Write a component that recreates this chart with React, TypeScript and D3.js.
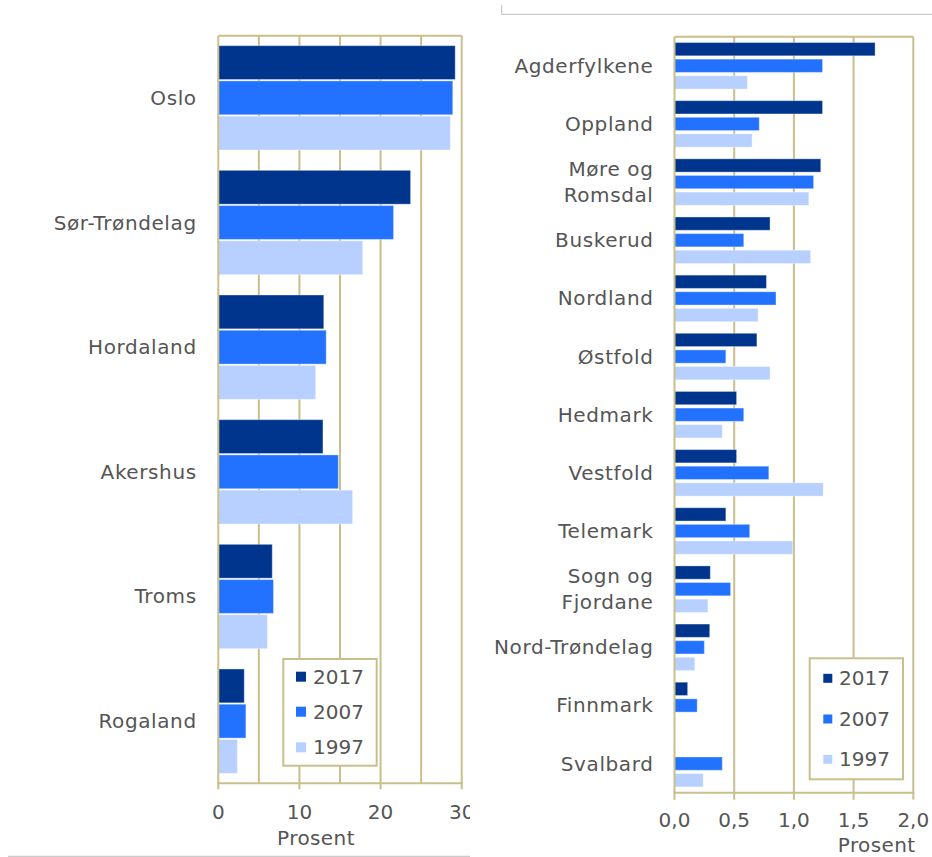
import React from "react";
import * as d3 from "d3";

// ---------- data ----------
const years = ["2017", "2007", "1997"];

const leftCategories = ["Oslo", "Sør-Trøndelag", "Hordaland", "Akershus", "Troms", "Rogaland"];
const left2017 = [29.2, 23.7, 13.0, 12.9, 6.65, 3.2];
const left2007 = [28.9, 21.6, 13.3, 14.8, 6.8, 3.4];
const left1997 = [28.6, 17.8, 12.0, 16.55, 6.05, 2.35];
const leftTicks = [0, 10, 20, 30];
const leftGrid = [5, 10, 15, 20, 25];

const rightCategories = [
  "Agderfylkene", "Oppland", "Møre og\nRomsdal", "Buskerud", "Nordland", "Østfold",
  "Hedmark", "Vestfold", "Telemark", "Sogn og\nFjordane", "Nord-Trøndelag", "Finnmark", "Svalbard",
];
const right2017: (number | null)[] = [1.68, 1.24, 1.225, 0.8, 0.77, 0.69, 0.52, 0.52, 0.43, 0.3, 0.295, 0.11, null];
const right2007: (number | null)[] = [1.24, 0.71, 1.165, 0.58, 0.85, 0.43, 0.58, 0.79, 0.63, 0.47, 0.25, 0.19, 0.4];
const right1997: (number | null)[] = [0.61, 0.65, 1.125, 1.14, 0.7, 0.8, 0.4, 1.245, 0.99, 0.28, 0.17, null, 0.24];
const rightTicks = [0, 0.5, 1.0, 1.5, 2.0];
const rightGrid = [0.5, 1.0, 1.5];

const colors: Record<string, string> = { "2017": "#00358e", "2007": "#2372ff", "1997": "#b7d0ff" };
const KHAKI = "#c9bf8d";
const TEXT = "#555555";
const FONT = "'DejaVu Sans', Verdana, sans-serif";

type PanelProps = {
  categories: string[];
  series: (number | null)[][];
  xDomain: [number, number];
  xRange: [number, number];
  yRange: [number, number];
  padInner: number;
  padOuter: number;
  subPad: number;
  grid: number[];
  ticks: number[];
  tickFmt: (v: number) => string;
  tickBaseline: number;
  tickLen: number;
  labelX: number;
  lineHeight: number;
  prosentX: number;
  prosentY: number;
  legend: { x: number; y: number; w: number; h: number; mx: number; ms: number; tx: number; ys: number[] };
  clipId: string;
  clipW: number;
};

function Panel(p: PanelProps) {
  const x = d3.scaleLinear().domain(p.xDomain).range(p.xRange);
  const y = d3.scaleBand<string>().domain(p.categories).range(p.yRange).paddingInner(p.padInner).paddingOuter(p.padOuter);
  const sub = d3.scaleBand<string>().domain(years).range([0, y.bandwidth()]).paddingInner(p.subPad);
  const [x0, x1] = p.xRange;
  const [yTop, yBot] = p.yRange;
  return (
    <g clipPath={`url(#${p.clipId})`}>
      <defs>
        <clipPath id={p.clipId}>
          <rect x={x0 - 400} y={0} width={p.clipW} height={857} />
        </clipPath>
      </defs>
      {/* grid */}
      {p.grid.map((g) => (
        <line key={"g" + g} x1={x(g)} x2={x(g)} y1={yTop} y2={yBot} stroke={KHAKI} strokeWidth={2} />
      ))}
      {/* bars */}
      {p.categories.map((c, i) =>
        years.map((yr, k) => {
          const v = p.series[k][i];
          if (v == null) return null;
          return (
            <rect
              key={c + yr}
              x={x(0)}
              y={(y(c) as number) + (sub(yr) as number)}
              width={x(v) - x(0)}
              height={sub.bandwidth()}
              fill={colors[yr]}
              stroke="#ffffff"
              strokeOpacity={0.35}
              strokeWidth={1}
            />
          );
        })
      )}
      {/* frame */}
      <line x1={x0} x2={x1} y1={yTop} y2={yTop} stroke={KHAKI} strokeWidth={2} />
      <line x1={x1} x2={x1} y1={yTop} y2={yBot} stroke={KHAKI} strokeWidth={2} />
      <line x1={x0} x2={x0} y1={yTop} y2={yBot} stroke={KHAKI} strokeWidth={2} />
      <line x1={x0 - 1} x2={x1 + 1} y1={yBot} y2={yBot} stroke={KHAKI} strokeWidth={2} />
      {p.ticks.map((t) => (
        <line key={"t" + t} x1={x(t)} x2={x(t)} y1={yBot} y2={yBot + p.tickLen} stroke={KHAKI} strokeWidth={2} />
      ))}
      {/* tick labels */}
      {p.ticks.map((t) => (
        <text key={"l" + t} x={x(t)} y={p.tickBaseline} textAnchor="middle" fontSize={20} fill={TEXT} fontFamily={FONT}>
          {p.tickFmt(t)}
        </text>
      ))}
      <text x={p.prosentX} y={p.prosentY} textAnchor="middle" fontSize={20} fill={TEXT} fontFamily={FONT} letterSpacing={0.4}>
        Prosent
      </text>
      {/* category labels */}
      {p.categories.map((c) => {
        const lines = c.split("\n");
        const cy = (y(c) as number) + y.bandwidth() / 2;
        return (
          <text key={"c" + c} x={p.labelX} textAnchor="end" fontSize={20} fill={TEXT} fontFamily={FONT} letterSpacing={0.6}>
            {lines.map((ln, j) => (
              <tspan key={j} x={p.labelX} y={cy + (j - (lines.length - 1) / 2) * p.lineHeight} dy="0.35em">
                {ln}
              </tspan>
            ))}
          </text>
        );
      })}
      {/* legend */}
      <rect x={p.legend.x} y={p.legend.y} width={p.legend.w} height={p.legend.h} fill="#ffffff" stroke={KHAKI} strokeWidth={2} />
      {years.map((yr, k) => (
        <g key={"lg" + yr}>
          <rect
            x={p.legend.mx}
            y={p.legend.ys[k] - p.legend.ms / 2}
            width={p.legend.ms}
            height={p.legend.ms}
            fill={colors[yr]}
          />
          <text x={p.legend.tx} y={p.legend.ys[k]} dy="0.35em" fontSize={20} fill={TEXT} fontFamily={FONT}>
            {yr}
          </text>
        </g>
      ))}
    </g>
  );
}

export default function App() {
  const fmtComma = (v: number) => d3.format(".1f")(v).replace(".", ",");
  return (
    <svg
      width={932}
      height={857}
      style={{ position: "absolute", left: 0, top: 0, background: "#ffffff" }}
    >
      <rect x={0} y={0} width={932} height={857} fill="#ffffff" />
      <Panel
        categories={leftCategories}
        series={[left2017, left2007, left1997]}
        xDomain={[0, 30]}
        xRange={[218.3, 461.7]}
        yRange={[35.7, 783.3]}
        padInner={0.163}
        padOuter={0.08}
        subPad={0.04}
        grid={leftGrid}
        ticks={leftTicks}
        tickFmt={(v) => String(v)}
        tickBaseline={818.5}
        tickLen={6}
        labelX={196.7}
        lineHeight={26}
        prosentX={316}
        prosentY={845}
        legend={{ x: 283.3, y: 659, w: 93.4, h: 106.7, mx: 296, ms: 10, tx: 313, ys: [676.7, 711.7, 747.3] }}
        clipId="clipL"
        clipW={470 - (218.3 - 400)}
      />
      <Panel
        categories={rightCategories}
        series={[right2017, right2007, right1997]}
        xDomain={[0, 2]}
        xRange={[674.5, 913.3]}
        yRange={[36.7, 792.7]}
        padInner={0.2}
        padOuter={0.1}
        subPad={0.2}
        grid={rightGrid}
        ticks={rightTicks}
        tickFmt={fmtComma}
        tickBaseline={827}
        tickLen={7}
        labelX={653.5}
        lineHeight={26}
        prosentX={876.7}
        prosentY={852}
        legend={{ x: 809.7, y: 658.3, w: 93.3, h: 121, mx: 823.3, ms: 9, tx: 839, ys: [678.3, 719, 759.3] }}
        clipId="clipR"
        clipW={1000}
      />
      {/* decorative frame lines */}
      <line x1={501.7} x2={501.7} y1={5} y2={14.3} stroke="#c0c0c0" strokeWidth={1} />
      <line x1={501.7} x2={932} y1={14.3} y2={14.3} stroke="#c0c0c0" strokeWidth={1} />
      <line x1={8} x2={470} y1={856.3} y2={856.3} stroke="#c0c0c0" strokeWidth={1} />
    </svg>
  );
}
